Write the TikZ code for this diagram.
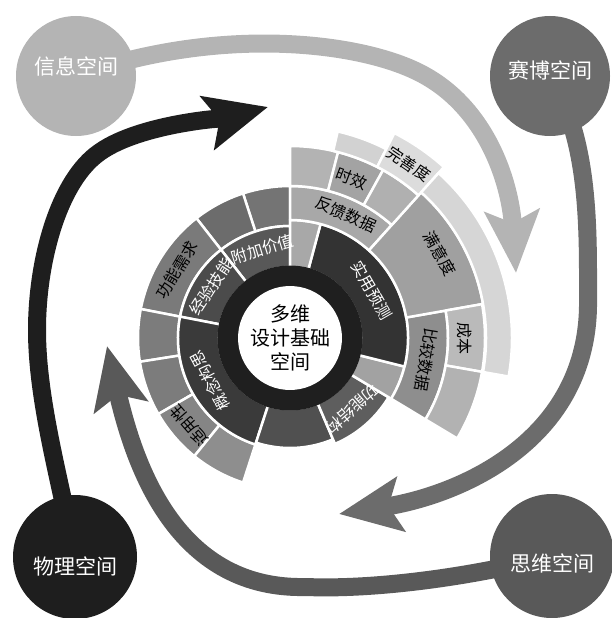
\documentclass[tikz,border=0pt]{standalone}
\usepackage{fontspec}
\setmainfont{Noto Sans CJK SC}
\usetikzlibrary{arrows.meta,positioning,backgrounds}
\definecolor{infogray}{HTML}{B4B4B4}
\definecolor{cybergray}{HTML}{6C6C6C}
\definecolor{thoughtgray}{HTML}{595959}
\definecolor{physgray}{HTML}{1E1E1E}
\definecolor{blackring}{HTML}{1F1F1F}
\definecolor{ringB1}{HTML}{747474}
\definecolor{ringB2}{HTML}{6C6C6C}
\definecolor{ringB3}{HTML}{7A7A7A}
\definecolor{ringB4}{HTML}{7C7C7C}
\definecolor{ringB5}{HTML}{858585}
\definecolor{ringB6}{HTML}{8E8E8E}
\definecolor{addval}{HTML}{585858}
\definecolor{skill}{HTML}{4B4B4B}
\definecolor{concept}{HTML}{3A3A3A}
\definecolor{lowseg}{HTML}{505050}
\definecolor{funcstr}{HTML}{5E5E5E}
\definecolor{practical}{HTML}{333333}
\definecolor{cmpin}{HTML}{A2A2A2}
\definecolor{cmp}{HTML}{8E8E8E}
\definecolor{fb}{HTML}{A8A8A8}
\definecolor{satis}{HTML}{A0A0A0}
\definecolor{cost}{HTML}{BABABA}
\definecolor{costlow}{HTML}{B2B2B2}
\definecolor{topA}{HTML}{B3B3B3}
\definecolor{timely}{HTML}{A3A3A3}
\definecolor{topC}{HTML}{B0B0B0}
\definecolor{topD}{HTML}{D2D2D2}
\definecolor{perfect}{HTML}{DCDCDC}
\definecolor{strip}{HTML}{D6D6D6}
\tikzstyle{space}=[circle,minimum size=120pt,inner sep=0pt]
\tikzstyle{spacetext}=[text=white,font=\fontsize{21}{24}\selectfont]
\tikzstyle{band}=[line width=18pt,-{Stealth[length=62pt,width=54pt,inset=12pt]}]
\tikzstyle{segline}=[draw=white,line width=2.5pt,line join=round]
\tikzstyle{seglabel}=[font=\fontsize{16}{18}\selectfont,inner sep=0pt]
\tikzstyle{dseglabel}=[seglabel,text=white]
\tikzstyle{core}=[circle,fill=white,minimum size=92pt,inner sep=0pt,align=center,
font=\fontsize{20}{24}\selectfont]
% annular sector: fill, start angle, end angle, inner radius, outer radius
\newcommand{\ringseg}[5]{%
  \filldraw[segline,fill=#1] (#2:#4) arc[start angle=#2,end angle=#3,radius=#4]
    -- (#3:#5) arc[start angle=#3,end angle=#2,radius=#5] -- cycle;}

\begin{document}
\begin{tikzpicture}[x=1pt,y=1pt]
            \useasboundingbox (0,0) rectangle (612,-618);

            % SPACE PART

            \node[space,fill=infogray,label={[spacetext,yshift=10pt]center:信息空间}] (info) at (76,-76) {};
            \node[space,fill=cybergray,label={[spacetext,yshift=6pt]center:赛博空间}] (cyber) at (550,-76) {};
            \node[space,fill=thoughtgray,minimum size=124pt,label={[spacetext,yshift=-7pt]center:思维空间}] (thought) at (552,-556) {};
            \node[space,fill=physgray,minimum size=124pt,label={[spacetext,yshift=-9pt]center:物理空间}] (phys) at (75,-557) {};

            % BAND PART

            \coordinate (infomid) at (420,-73);
            \coordinate (infoend) at (516,-273);
            \coordinate (cybermid) at (588,-300);
            \coordinate (cyberend) at (339,-514);
            \coordinate (thoughtmid) at (306,-587);
            \coordinate (thoughtend) at (107,-346);
            \coordinate (physmid) at (37,-330);
            \coordinate (physbend) at (100,-152);
            \coordinate (physend) at (268,-107);

            \begin{pgfonlayer}{background}
            \draw[band,infogray] (info.center) .. controls (220,-25) and (360,-42) .. (infomid)
                .. controls (485,-106) and (510,-180) .. (infoend);
            \draw[band,cybergray] (cyber.center) .. controls (590,-140) and (588,-230) .. (cybermid)
                .. controls (590,-440) and (460,-495) .. (cyberend);
            \draw[band,thoughtgray] (thought.center) .. controls (480,-575) and (380,-590) .. (thoughtmid)
                .. controls (180,-590) and (136,-473) .. (thoughtend);
            \draw[band,physgray] (phys.center) .. controls (60,-480) and (37,-400) .. (physmid)
                .. controls (37,-260) and (59,-180) .. (physbend)
                .. controls (141,-123) and (230,-117) .. (physend);
            \end{pgfonlayer}

            % RING PART

            \coordinate (ctr) at (290,-338);
            \begin{scope}[shift={(ctr)}]
            \ringseg{ringB1}{90}{108}{112}{152}
            \ringseg{ringB2}{108}{128}{112}{152}
            \ringseg{ringB3}{128}{169}{112}{152}
            \ringseg{ringB4}{169}{189}{112}{152}
            \ringseg{ringB4}{189}{210}{112}{152}
            \ringseg{ringB5}{210}{231}{112}{152}
            \ringseg{ringB6}{231}{252}{112}{152}
            \ringseg{addval}{90}{128}{71}{112}
            \ringseg{skill}{128}{169}{71}{112}
            \ringseg{concept}{169}{252}{71}{112}
            \ringseg{lowseg}{252}{293}{71}{110}
            \ringseg{funcstr}{293}{329}{71}{115}
            \ringseg{cmpin}{-31}{-14}{71}{118}
            \ringseg{cmp}{-31}{10}{118}{158}
            \ringseg{practical}{-14}{75}{71}{118}
            \ringseg{fb}{75}{90}{71}{118}
            \ringseg{fb}{48}{90}{118}{152}
            \ringseg{satis}{10}{48}{118}{196}
            \ringseg{cost}{-10}{10}{158}{195}
            \ringseg{costlow}{-31}{-10}{158}{195}
            \ringseg{topA}{75.5}{90}{152}{192}
            \ringseg{timely}{61}{75.5}{152}{192}
            \ringseg{topC}{48}{61}{152}{192}
            \ringseg{topD}{63}{77}{192}{212}
            \ringseg{perfect}{48}{63}{192}{230}
            \ringseg{strip}{-10}{48}{196}{222}

            % ring labels
            \node[dseglabel,rotate=17] (s1) at (107:93) {附加价值};
            \node[dseglabel,rotate=57] (s2) at (147:94) {经验技能};
            \node[seglabel,rotate=59] (s3) at (149:132) {功能需求};
            \node[dseglabel,rotate=118] (s4) at (208:91) {概念构思};
            \node[seglabel,rotate=131] (s5) at (221:133) {适用性};
            \node[dseglabel,rotate=221.5] (s6) at (311.5:95) {功能结构};
            \node[dseglabel,rotate=-60] (s7) at (30:95) {实用预测};
            \node[seglabel,rotate=-99] (s8) at (351:138) {比较数据};
            \node[seglabel,rotate=-90] (s9) at (0:175) {成本};
            \node[seglabel,rotate=-60.5] (s10) at (29.5:172) {满意度};
            \node[seglabel,rotate=-24.3] (s11) at (65.7:136) {反馈数据};
            \node[seglabel,rotate=-21] (s12) at (69:171) {时效};
            \node[seglabel,rotate=-34.3] (s13) at (55.7:211) {完善度};
            \end{scope}

            % CORE PART

            \node[circle,fill=blackring,minimum size=145pt] (ring) at (ctr) {};
            \node[core] (core) at (ctr) {多维\\设计基础\\空间};

\end{tikzpicture}
\end{document}
